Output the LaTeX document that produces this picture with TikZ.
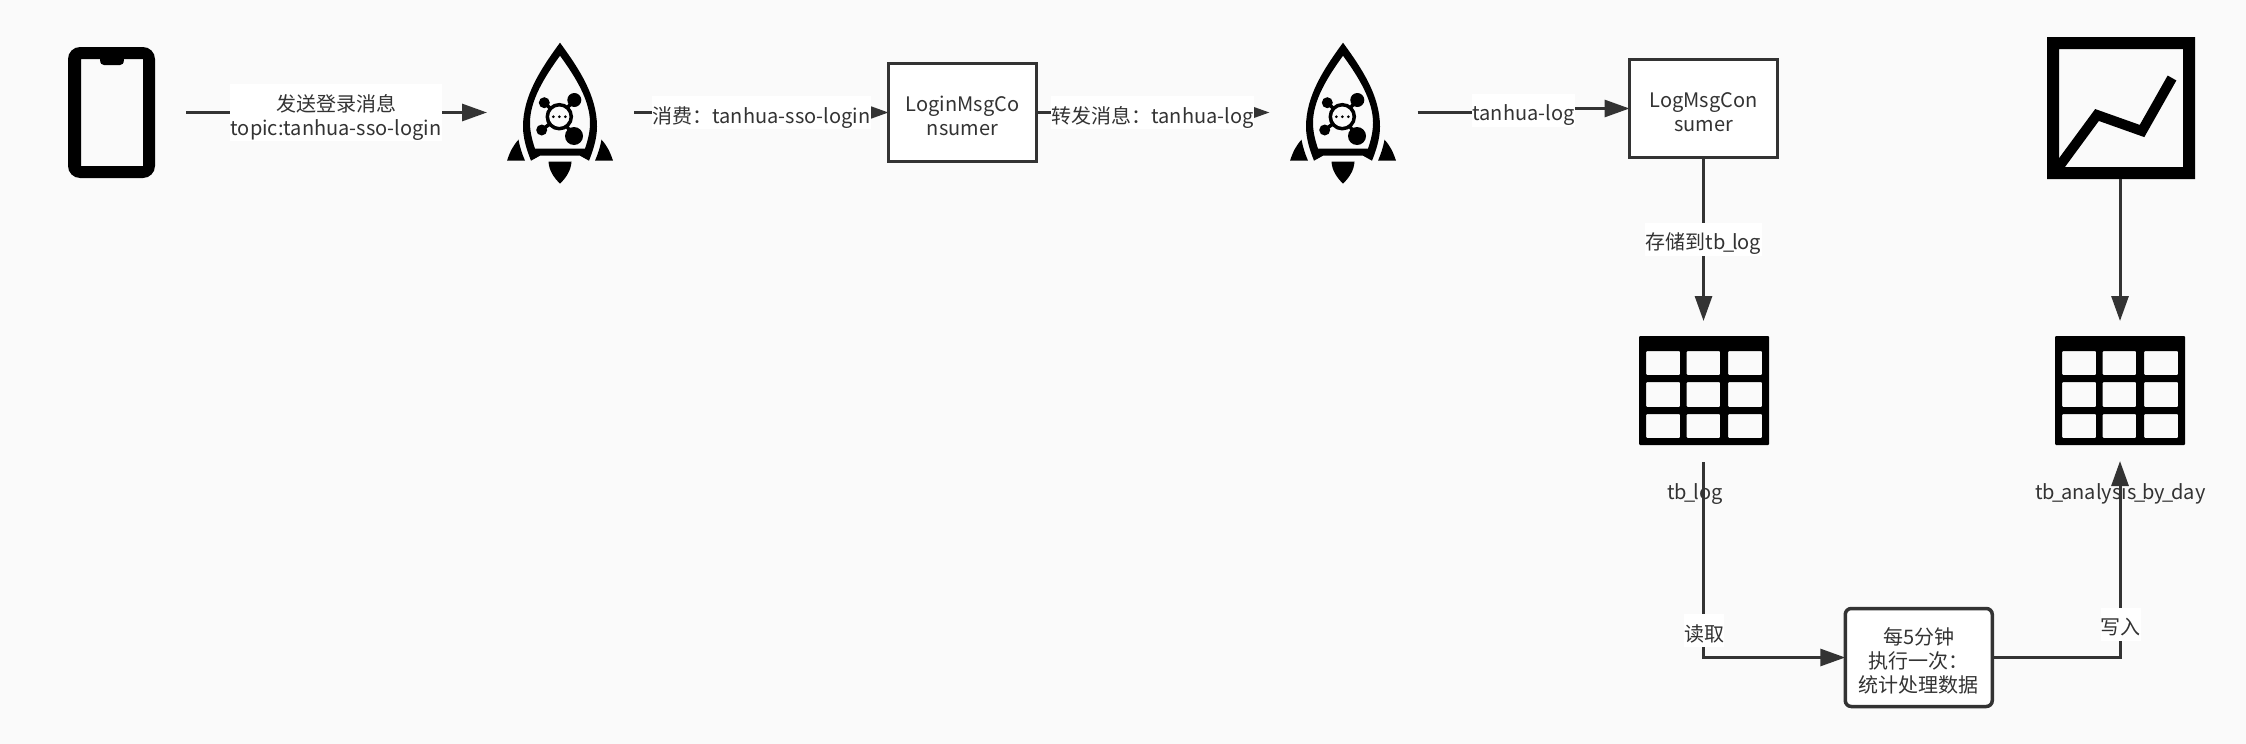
\documentclass[tikz,border=0pt]{standalone}
\usepackage{fontspec}
\setmainfont{Noto Sans CJK SC}
\usetikzlibrary{arrows.meta}
\pgfdeclarelayer{under}
\pgfdeclarelayer{conn}
\pgfsetlayers{under,conn,main}
\definecolor{pagebg}{HTML}{FAFAFA}
\definecolor{ink}{HTML}{333333}
\newcommand{\topl}{\rule{0pt}{27pt}}
\newcommand{\botl}{\rule[-6pt]{0pt}{6pt}}
\newcommand{\nus}{\kern-2.5pt\_\kern-2.5pt}
\tikzset{
  txt/.style={font=\fontsize{20}{24}\selectfont,text=ink,align=center,inner sep=0pt,outer sep=0pt},
  anchorbox/.style={inner sep=0pt,outer sep=0pt,minimum width=#1},
  squarebox/.style={txt,draw=ink,line width=3pt,fill=white,minimum width=148pt,minimum height=98pt},
  roundbox/.style={txt,draw=ink,line width=3.5pt,fill=white,rounded corners=6pt,minimum width=147pt,minimum height=98pt},
  edgelabel/.style={txt,fill=white},
  conn/.style={draw=ink,line width=3pt,-{Triangle[length=25pt,width=17pt]}},
  rocket/.pic={
    \fill[black,even odd rule]
      (0,-70) .. controls (-19,-44) and (-37,-17) .. (-37,14) .. controls (-37,26) and (-33,38) .. (-29,48)
      -- (-20,43) -- (20,43) -- (29,48) .. controls (33,38) and (37,26) .. (37,14) .. controls (37,-17) and (19,-44) .. (0,-70) -- cycle
      (0,-57) .. controls (-16,-35) and (-30,-12) .. (-30,10) .. controls (-30,19) and (-28,27) .. (-25,36)
      -- (25,36) .. controls (28,27) and (30,19) .. (30,10) .. controls (30,-12) and (16,-35) .. (0,-57) -- cycle;
    \fill[black] (-53,48) .. controls (-50,39) and (-47,33) .. (-41.5,27) .. controls (-40,35) and (-38,41) .. (-35,48) -- cycle;
    \fill[black] (53,48) .. controls (50,39) and (47,33) .. (41.5,27) .. controls (40,35) and (38,41) .. (35,48) -- cycle;
    \fill[black] (-11.5,49) -- (11.5,49) .. controls (11,58) and (6,65) .. (0,71) .. controls (-6,65) and (-11,58) .. (-11.5,49) -- cycle;
    \draw[black,line width=3.5pt] (-0.7,4) -- (-15.7,-10) (-0.7,4) -- (14.3,-12.7) (-0.7,4) -- (-18.3,17.3) (-0.7,4) -- (14,23.3);
    \fill[black] (-15.7,-10) circle (5.5) (14.3,-12.7) circle (7) (-18.3,17.3) circle (5.5) (14,23.3) circle (9);
    \draw[black,line width=3.5pt,fill=pagebg] (-0.7,4) circle (12);
    \fill[black] (-6.7,4) circle (1.5) (-0.7,4) circle (1.5) (5.3,4) circle (1.5);
  },
  gridtable/.pic={
    \fill[black,rounded corners=1pt,even odd rule] (-65,-55.5) rectangle (65,53.5)
      (-58,-40.5) rectangle (-24,-16.5) (-17.5,-40.5) rectangle (16,-16.5) (24,-40.5) rectangle (58,-16.5)
      (-58,-9.5) rectangle (-24,15.5) (-17.5,-9.5) rectangle (16,15.5) (24,-9.5) rectangle (58,15.5)
      (-58,22.5) rectangle (-24,46.5) (-17.5,22.5) rectangle (16,46.5) (24,22.5) rectangle (58,46.5);
  }
}
\begin{document}
\begin{tikzpicture}[x=1pt,y=-1pt]
\useasboundingbox (0,0) rectangle (2246,744);

\begin{pgfonlayer}{under}
\fill[pagebg] (0,0) rectangle (2246,744);

% icon holders
\node[anchorbox=148pt,minimum height=132pt] (phone) at (112,112.5) {};
\node[anchorbox=147pt,minimum height=142pt] (rocketa) at (560.5,112.5) {};
\node[anchorbox=148pt,minimum height=142pt] (rocketb) at (1343.5,112.5) {};
\node[anchorbox=148pt,minimum height=142pt] (chart) at (2120,108) {};
\node[anchorbox=148pt,minimum height=141pt] (tablea) at (1703.5,391.5) {};
\node[anchorbox=148pt,minimum height=140pt] (tableb) at (2120,391) {};

% phone
\fill[black,even odd rule,rounded corners=12pt] (68,47) rectangle (155,178)
  [sharp corners] (81,59) -- (100,59) .. controls (100,64) and (102,65) .. (104,65) -- (120,65) .. controls (122,65) and (124,64) .. (124,59) -- (143,59) -- (143,166) -- (81,166) -- cycle;

% rockets
\pic at (560,112.7) {rocket};
\pic at (1343,112.7) {rocket};

% chart
\fill[black,even odd rule] (2047,37) rectangle (2195,179) (2059,49) rectangle (2183,167);
\draw[black,line width=10pt,line join=miter] (2058,168) -- (2097,115) -- (2142,131) -- (2172,78);

% tables
\pic at (1704,391.5) {gridtable};
\pic at (2120,391.5) {gridtable};
\node[txt] (tbloglabel) at (1695,489) {\topl\botl tb\nus log};
\node[txt] (tbdaylabel) at (2120.5,489) {\topl\botl tb\nus analysis\nus by\nus day};

% boxes
\node[squarebox] (loginbox) at (962.5,112.5) {\topl LoginMsgCo\\\botl nsumer};
\node[squarebox] (logbox) at (1703.5,108.5) {\topl LogMsgCon\\\botl sumer};
\node[roundbox] (jobbox) at (1918.75,657.5) {\topl 每5分钟\\执行一次：\\\botl 统计处理数据};
\end{pgfonlayer}

% edge labels
\node[edgelabel,minimum width=212pt,minimum height=47pt] (sendlabel) at (336,112.5) {\topl 发送登录消息\\\botl topic:tanhua-sso-login};
\node[edgelabel,minimum width=219pt,minimum height=23pt] (consumelabel) at (761.5,112.5) {\topl\botl 消费：tanhua-sso-login};
\node[edgelabel,minimum width=201pt,minimum height=23pt] (forwardlabel) at (1152.5,112.5) {\topl\botl 转发消息：tanhua-log};
\node[edgelabel,minimum width=103pt,minimum height=22pt] (loglabel) at (1523.5,110) {\topl\botl tanhua-log};
\node[edgelabel,minimum width=117pt,minimum height=24pt] (storelabel) at (1703.5,239) {\topl\botl 存储到tb\nus log};
\node[edgelabel,minimum width=39pt,minimum height=25pt] (readlabel) at (1704,630.5) {\topl\botl 读取};
\node[edgelabel,minimum width=39pt,minimum height=24pt] (writelabel) at (2120.5,624) {\topl\botl 写入};

% connectors
\begin{pgfonlayer}{conn}
\draw[conn] (phone.east) -- (rocketa.west);
\draw[conn] (rocketa.east) -- (loginbox.west);
\draw[conn] (loginbox.east) -- (rocketb.west);
\draw[conn] (rocketb.east) -- (loglabel.center |- rocketb.east) -- (loglabel.center |- logbox.west) -- (logbox.west);
\draw[conn] (logbox.south) -- (tablea.north);
\draw[conn] (chart.south) -- (tableb.north);
\draw[conn] (tablea.south) |- (jobbox.west);
\draw[conn] (jobbox.east) -| (tableb.south);
\end{pgfonlayer}
\end{tikzpicture}
\end{document}
